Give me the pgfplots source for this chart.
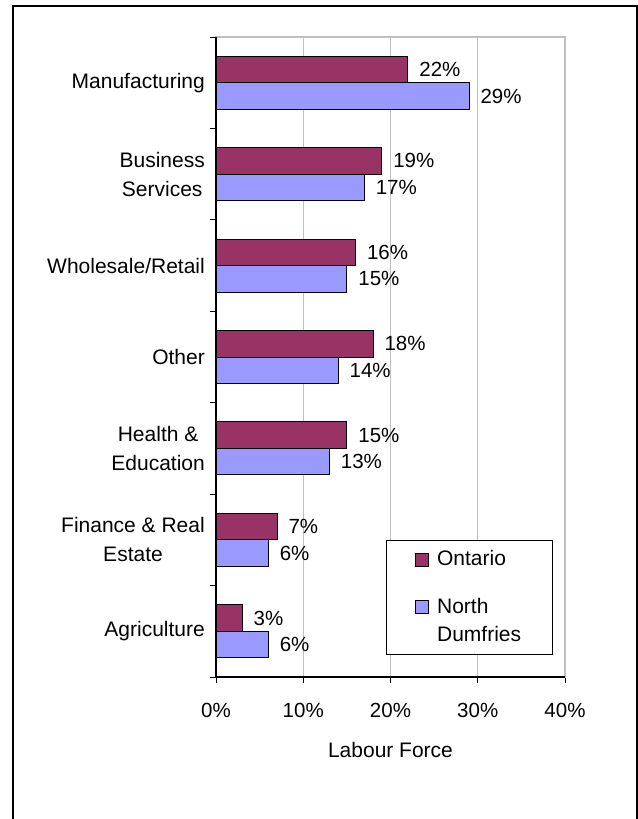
\documentclass[border=0pt]{standalone}
\usepackage{pgfplots}
\pgfplotsset{compat=1.18}
\usepackage{fontspec}
\setmainfont{Liberation Sans}
\definecolor{ont}{HTML}{993366}
\definecolor{nd}{HTML}{9999FF}
\definecolor{gridgray}{HTML}{C0C0C0}
\begin{document}
\fontsize{21bp}{29bp}\selectfont
\begin{tikzpicture}
\path[use as bounding box] (0,0) rectangle (638bp,-819bp);
\draw[line width=2bp] (13bp,-819bp) -- (13bp,-6bp) -- (637bp,-6bp) -- (637bp,-819bp);
\begin{axis}[
  at={(216bp,-677bp)}, anchor=south west,
  scale only axis, width=349bp, height=640bp,
  /pgf/number format/assume math mode=true,
  xbar, bar width=26.5bp,
  xmin=0, xmax=40, ymin=-0.5, ymax=6.5,
  xtick={0,10,20,30,40},
  xticklabel={\pgfmathprintnumber{\tick}\%},
  xticklabel style={font=\fontsize{20.5bp}{29bp}\selectfont, yshift=-13bp},
  ytick={-0.5,0.5,1.5,2.5,3.5,4.5,5.5,6.5},
  yticklabels={},
  extra y ticks={0,1,2,3,4,5,6},
  extra y tick labels={Agriculture, Finance \& Real\\Estate, Health \&\\Education, Other, Wholesale/Retail, Business\\Services, Manufacturing},
  extra y tick style={tick style={draw=none}, grid=none,
     yticklabel style={align=center, xshift=2bp, font=\fontsize{21bp}{29bp}\selectfont}},
  xtick pos=bottom, ytick pos=left,
  tick align=outside, major tick length=6bp,
  tick style={black, line width=1bp},
  xmajorgrids, grid style={gridgray, line width=1.3bp},
  axis line style={gridgray, line width=1.3bp},
  xlabel={Labour Force},
  xlabel style={font=\fontsize{21bp}{29bp}\selectfont, yshift=-10bp},
  nodes near coords={\pgfmathprintnumber{\pgfplotspointmeta}\%},
  every node near coord/.append style={text=black, font=\fontsize{20.5bp}{24bp}\selectfont, xshift=4bp},
  legend style={at={(0.486,0.214)}, anchor=north west, draw=black, line width=1bp,
     font=\fontsize{21bp}{28bp}\selectfont, inner xsep=29bp, inner ysep=8bp, row sep=25bp,
     cells={align=left},
     /tikz/every odd column/.append style={column sep=6bp}},
  legend cell align=left,
  after end axis/.code={
    \draw[black, line width=1.6bp] (rel axis cs:0,1) -- (rel axis cs:0,0) -- (rel axis cs:1,0);
  },
]
\addplot[fill=ont, draw=black, line width=1bp, bar shift=13.25bp,
  legend image code/.code={\draw[fill=ont, draw=black, line width=1bp] (0bp,-6.5bp) rectangle (13bp,6.5bp);}]
  coordinates {(3,0) (7,1) (15,2) (18,3) (16,4) (19,5) (22,6)};
\addlegendentry{Ontario}
\addplot[fill=nd, draw=black, line width=1bp, bar shift=-13.25bp,
  legend image code/.code={\draw[fill=nd, draw=black, line width=1bp] (0bp,7.5bp) rectangle (13bp,20.5bp);}]
  coordinates {(6,0) (6,1) (13,2) (14,3) (15,4) (17,5) (29,6)};
\addlegendentry{North\\Dumfries}
\end{axis}
\end{tikzpicture}
\end{document}
